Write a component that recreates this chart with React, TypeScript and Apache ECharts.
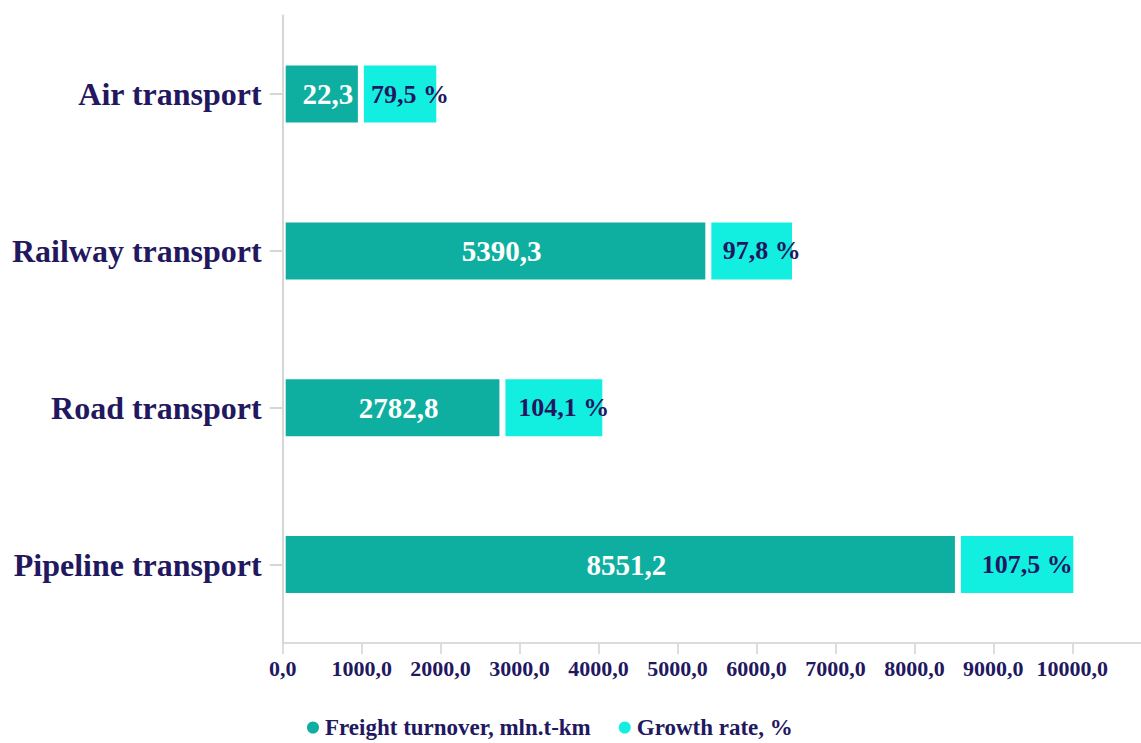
import React, { useEffect, useRef } from "react";
import * as echarts from "echarts";

// Categories (bottom to top, as ECharts draws a category y axis)
const categories = ["Pipeline transport", "Road transport", "Railway transport", "Air transport"];

// Displayed bar lengths
const freightBars = [8551.2, 2782.8, 5390.3, 990];
const growthBars = [1500, 1303, 1098, 993];

// Printed values
const freightLabels = ["8551,2", "2782,8", "5390,3", "22,3"];
const growthLabels = ["107,5 %", "104,1 %", "97,8 %", "79,5 %"];

const seriesNames = ["Freight turnover, mln.t-km", "Growth rate, %"];

const xMin = 0;
const xMax = 10870;
const xInterval = 1000;

const FONT = "'Liberation Serif', 'Times New Roman', serif";
const NAVY = "#22185f";
const GREEN = "#0eafa0";
const CYAN = "#12efe0";

export default function App() {
  const ref = useRef<HTMLDivElement>(null);

  useEffect(() => {
    if (!ref.current) return;
    const chart = echarts.init(ref.current, null, { renderer: "svg" });
    chart.setOption({
      animation: false,
      backgroundColor: "#ffffff",
      grid: { left: 282.7, right: 0, top: 15.6, bottom: 100, containLabel: false },
      legend: {
        data: seriesNames,
        left: 300,
        top: 711,
        icon: "circle",
        itemWidth: 14,
        itemHeight: 14,
        itemGap: 26,
        textStyle: { fontFamily: FONT, fontWeight: "bold", fontSize: 23, color: NAVY },
      },
      xAxis: {
        type: "value",
        min: xMin,
        max: xMax,
        interval: xInterval,
        axisLine: { show: true, lineStyle: { color: "#dcdcdc", width: 2 } },
        axisTick: { show: true, length: 11, lineStyle: { color: "#dcdcdc", width: 2 } },
        splitLine: { show: false },
        axisLabel: {
          showMaxLabel: false,
          margin: 14,
          fontFamily: FONT,
          fontWeight: "bold",
          fontSize: 22,
          color: NAVY,
          formatter: (v: number) => v.toFixed(1).replace(".", ","),
        },
      },
      yAxis: {
        type: "category",
        data: categories,
        z: 5,
        axisLine: { show: true, lineStyle: { color: "#d6d6d6", width: 2 } },
        axisTick: { show: true, length: 13, alignWithLabel: true, lineStyle: { color: "#d6d6d6", width: 2 } },
        axisLabel: {
          margin: 21,
          fontFamily: FONT,
          fontWeight: "bold",
          fontSize: 32,
          color: NAVY,
        },
      },
      series: [
        {
          name: seriesNames[0],
          type: "bar",
          stack: "total",
          barWidth: 63,
          data: freightBars,
          itemStyle: { color: GREEN, borderColor: "#ffffff", borderWidth: 3 },
          label: {
            show: true,
            position: "inside",
            offset: [6, 0],
            fontFamily: FONT,
            fontWeight: "bold",
            fontSize: 29,
            color: "#ffffff",
            formatter: (p: any) => freightLabels[p.dataIndex],
          },
        },
        {
          name: seriesNames[1],
          type: "bar",
          stack: "total",
          barWidth: 63,
          data: growthBars,
          itemStyle: { color: CYAN, borderColor: "#ffffff", borderWidth: 3 },
          label: {
            show: true,
            position: "inside",
            offset: [10, 0],
            fontFamily: FONT,
            fontWeight: "bold",
            fontSize: 26,
            color: NAVY,
            formatter: (p: any) => growthLabels[p.dataIndex],
          },
        },
      ],
    });
    return () => chart.dispose();
  }, []);

  return (
    <div
      ref={ref}
      style={{ position: "absolute", left: 0, top: 0, width: 1141, height: 743, background: "#fff" }}
    />
  );
}
